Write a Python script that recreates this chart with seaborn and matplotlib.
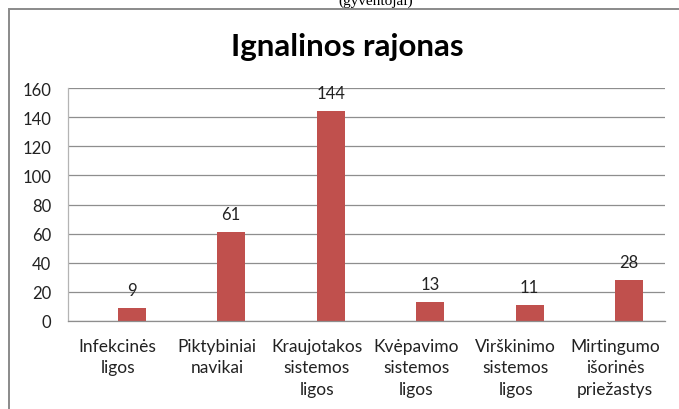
import matplotlib
matplotlib.use("Agg")
import matplotlib.pyplot as plt
import seaborn as sns
import pandas as pd
import numpy as np
from matplotlib.patches import Rectangle

categories = ["Infekcinės\nligos", "Piktybiniai\nnavikai", "Kraujotakos\nsistemos\nligos",
              "Kvėpavimo\nsistemos\nligos", "Virškinimo\nsistemos\nligos",
              "Mirtingumo\nišorinės\npriežastys"]
values = [9, 61, 144, 13, 11, 28]
series_names = ["_empty", "Ignalinos rajonas"]
title = "Ignalinos rajonas"
header = "(gyventojai)"
yticks = [0, 20, 40, 60, 80, 100, 120, 140, 160]

sns.set_theme(style="white")
plt.rcParams['font.family'] = ['Lato', 'DejaVu Sans']

df = pd.DataFrame({
    "cat": categories * 2,
    "val": [np.nan] * len(categories) + values,
    "series": [series_names[0]] * len(categories) + [series_names[1]] * len(categories),
})

W, H = 679, 410
fig = plt.figure(figsize=(W / 100, H / 100), dpi=100)
ax = fig.add_axes([68 / W, 1 - 322 / H, (665 - 68) / W, (322 - 89) / H])

sns.barplot(data=df, x="cat", y="val", hue="series", hue_order=series_names,
            order=categories, palette=["#C0504D", "#C0504D"], width=0.56,
            dodge=True, legend=False, errorbar=None, saturation=1,
            linewidth=0, ax=ax)

ax.set_xlim(-0.5, len(categories) - 0.5)
ax.set_ylim(0, 160)
ax.set_yticks(yticks)
ax.set_xlabel("")
ax.set_ylabel("")
ax.grid(axis="y", color="#8e8e8e", linewidth=0.9)
ax.grid(axis="x", visible=False)
ax.set_axisbelow(True)
for s in ["top", "right"]:
    ax.spines[s].set_visible(False)
ax.spines["left"].set_color("#b4b4b4")
ax.spines["left"].set_linewidth(0.9)
ax.spines["bottom"].set_color("#8e8e8e")
ax.spines["bottom"].set_linewidth(0.9)
ax.tick_params(axis="y", length=0, pad=12, labelsize=12, colors="#222222")
ax.tick_params(axis="x", length=0, pad=12, labelsize=12.5, colors="#222222")
for lbl in ax.get_xticklabels():
    lbl.set_linespacing(1.42)

# data labels
for p in ax.patches:
    h = p.get_height()
    if np.isnan(h) or p.get_width() == 0 or h == 0:
        continue
    ax.annotate(f"{int(round(h))}", (p.get_x() + p.get_width() / 2, h),
                xytext=(0, 9.4), textcoords="offset points",
                ha="center", va="baseline", fontsize=12, color="#222222")

fig.text(347 / W, 1 - 47 / H, title, ha="center", va="center",
         fontsize=22.5, fontweight="bold", color="#000000")

# chart frame (partially outside picture)
fig.patches.append(Rectangle((9 / W, -0.2), 1.2, 1 - 10 / H + 0.2,
                             transform=fig.transFigure, fill=False,
                             edgecolor="#8a8a8a", linewidth=1.4))
fig.text(376 / W, 1 - 5 / H, header, ha="center", va="baseline",
         fontsize=11, family=["Liberation Serif", "DejaVu Serif"], color="#000000")

fig.savefig("out.png", dpi=100)
